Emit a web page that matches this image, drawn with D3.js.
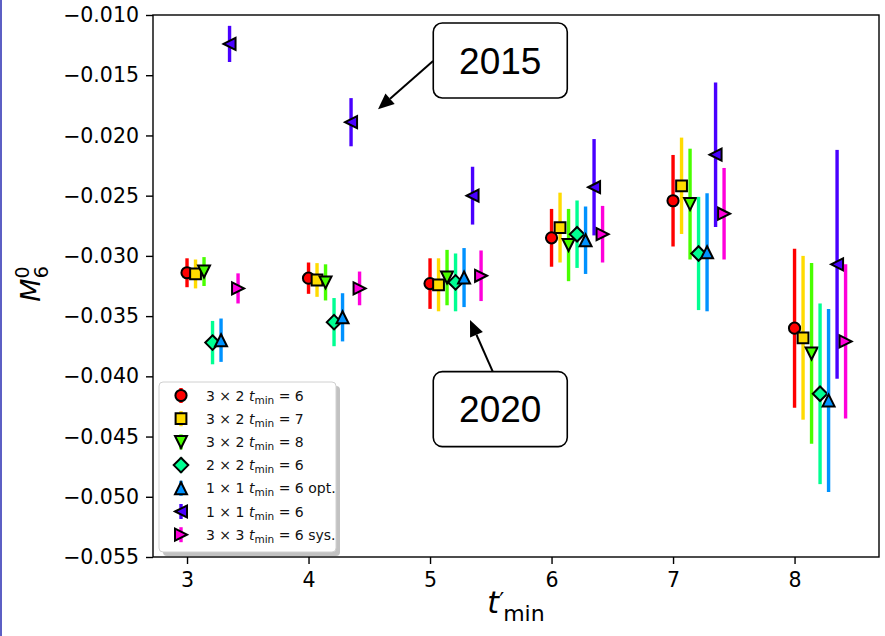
<!DOCTYPE html>
<html>
<head>
<meta charset="utf-8">
<script src="https://cdn.jsdelivr.net/npm/d3@7"></script>
<style>
  html, body { margin: 0; padding: 0; background: #fff; }
  svg { display: block; }
  text { font-family: "DejaVu Sans", sans-serif; }
</style>
</head>
<body>
<svg id="chart" width="885" height="636"></svg>
<script>
// t'_min values on the x axis
const tminPrime = [3, 4, 5, 6, 7, 8];
const xTicks = [3, 4, 5, 6, 7, 8];
const yTicks = [-0.055, -0.050, -0.045, -0.040, -0.035, -0.030, -0.025, -0.020, -0.015, -0.010];

// fit variants (legend order)
const seriesKeys = ["3x2_6", "3x2_7", "3x2_8", "2x2_6", "1x1_opt", "1x1_6", "3x3_sys"];
const seriesColors = ["#ff0000", "#ffdb00", "#49ff00", "#00ff92", "#0092ff", "#4900ff", "#ff00db"];
const seriesMarkers = ["circle", "square", "triangleDown", "diamond", "triangleUp", "triangleLeft", "triangleRight"];
const seriesLabels = [
  ["3 × 2 ", "= 6"],
  ["3 × 2 ", "= 7"],
  ["3 × 2 ", "= 8"],
  ["2 × 2 ", "= 6"],
  ["1 × 1 ", "= 6 opt."],
  ["1 × 1 ", "= 6"],
  ["3 × 3 ", "= 6 sys."]
];
// horizontal shift of each variant away from its t'_min
const seriesShift = [0, 0.07, 0.14, 0.21, 0.28, 0.35, 0.42];

// M_6^0 central values
const m3x2t6 = [-0.0314, -0.03185, -0.0323, -0.0285, -0.02542, -0.0360];
const m3x2t7 = [-0.0315, -0.0320, -0.0324, -0.02765, -0.02418, -0.0368];
const m3x2t8 = [-0.0313, -0.0322, -0.0318, -0.0291, -0.0257, -0.0381];
const m2x2t6 = [-0.0372, -0.0355, -0.0322, -0.0282, -0.0298, -0.04145];
const m1x1opt = [-0.0370, -0.0351, -0.0318, -0.0287, -0.0297, -0.0420];
const m1x1t6 = [-0.0124, -0.0189, -0.0250, -0.0243, -0.0216, -0.0307];
const m3x3sys = [-0.0327, -0.0327, -0.03165, -0.0282, -0.0265, -0.0371];

// symmetric uncertainties
const e3x2t6 = [0.0012, 0.0013, 0.0021, 0.0024, 0.0038, 0.0066];
const e3x2t7 = [0.0012, 0.0014, 0.0022, 0.0029, 0.0040, 0.0068];
const e3x2t8 = [0.0012, 0.0015, 0.0023, 0.0030, 0.0046, 0.0075];
const e2x2t6 = [0.0018, 0.0020, 0.0024, 0.0028, 0.0047, 0.0075];
const e1x1opt = [0.0018, 0.0020, 0.00245, 0.0028, 0.0049, 0.0076];
const e1x1t6 = [0.0015, 0.0020, 0.0024, 0.0040, 0.0060, 0.0095];
const e3x3sys = [0.00125, 0.0014, 0.0021, 0.00235, 0.0038, 0.0064];

const seriesValues = [m3x2t6, m3x2t7, m3x2t8, m2x2t6, m1x1opt, m1x1t6, m3x3sys];
const seriesErrors = [e3x2t6, e3x2t7, e3x2t8, e2x2t6, e1x1opt, e1x1t6, e3x3sys];

// annotations: label, box centre, arrow start and arrow tip (data coords)
const noteLabels = ["2015", "2020"];
const noteBoxCenter = [[5.578, -0.01378], [5.578, -0.04272]];
const noteArrowFrom = [[5.025, -0.01382], [5.518, -0.03965]];
const noteArrowTo = [[4.572, -0.01783], [5.329, -0.03533]];

const svg = d3.select("#chart");
const W = 885, H = 636;
const plot = { left: 153, right: 879, top: 15, bottom: 557 };

const x = d3.scaleLinear().domain([2.72, 8.695]).range([plot.left, plot.right]);
const y = d3.scaleLinear().domain([-0.055, -0.010]).range([plot.bottom, plot.top]);

// thin page edge on the left
svg.append("line").attr("x1", 1).attr("x2", 1).attr("y1", 0).attr("y2", H)
  .attr("stroke", "#5c5fc4").attr("stroke-width", 2);

function markerPath(kind, h) {
  switch (kind) {
    case "square": return `M${-h},${-h}H${h}V${h}H${-h}Z`;
    case "triangleDown": return `M${-h},${-h}L${h},${-h}L0,${h}Z`;
    case "triangleUp": return `M0,${-h}L${h},${h}L${-h},${h}Z`;
    case "triangleLeft": return `M${-h},0L${h},${-h}L${h},${h}Z`;
    case "triangleRight": return `M${h},0L${-h},${-h}L${-h},${h}Z`;
    case "diamond": { const d = h * 1.3; return `M0,${-d}L${d},0L0,${d}L${-d},0Z`; }
    default: return d3.arc()({ innerRadius: 0, outerRadius: h, startAngle: 0, endAngle: 2 * Math.PI });
  }
}
const markerHalf = { circle: 5.6, square: 5.4, triangleDown: 6, diamond: 5.6, triangleUp: 6, triangleLeft: 6, triangleRight: 6 };

// data layer
const dataLayer = svg.append("g");
seriesKeys.forEach((key, i) => {
  const g = dataLayer.append("g").attr("class", "series-" + key);
  const pts = tminPrime.map((t, j) => ({ t: t + seriesShift[i], v: seriesValues[i][j], e: seriesErrors[i][j] }));
  g.selectAll("line.err").data(pts).join("line").attr("class", "err")
    .attr("x1", d => x(d.t)).attr("x2", d => x(d.t))
    .attr("y1", d => y(d.v - d.e)).attr("y2", d => y(d.v + d.e))
    .attr("stroke", seriesColors[i]).attr("stroke-width", 3.4);
  g.selectAll("path.mk").data(pts).join("path").attr("class", "mk")
    .attr("transform", d => `translate(${x(d.t)},${y(d.v)})`)
    .attr("d", markerPath(seriesMarkers[i], markerHalf[seriesMarkers[i]]))
    .attr("fill", seriesColors[i]).attr("stroke", "#000").attr("stroke-width", 2)
    .attr("stroke-linejoin", "miter");
});

// frame
svg.append("rect").attr("x", plot.left).attr("y", plot.top)
  .attr("width", plot.right - plot.left).attr("height", plot.bottom - plot.top)
  .attr("fill", "none").attr("stroke", "#000").attr("stroke-width", 1.4);

// axes
const fmt = d3.format(".3f");
const yAxis = svg.append("g").attr("transform", `translate(${plot.left},0)`)
  .call(d3.axisLeft(y).tickValues(yTicks).tickFormat(fmt).tickSize(7).tickSizeOuter(0).tickPadding(7));
const xAxis = svg.append("g").attr("transform", `translate(0,${plot.bottom})`)
  .call(d3.axisBottom(x).tickValues(xTicks).tickFormat(d3.format("d")).tickSize(7).tickSizeOuter(0).tickPadding(8));
[yAxis, xAxis].forEach(a => {
  a.select(".domain").remove();
  a.selectAll(".tick line").attr("stroke", "#000").attr("stroke-width", 1.4);
  a.selectAll(".tick text").attr("fill", "#000").style("font-size", "20.5px")
    .style("font-family", "'DejaVu Sans', sans-serif");
});

// axis titles
const yl = svg.append("text").attr("transform", "translate(40,284) rotate(-90)")
  .attr("text-anchor", "middle").style("font-size", "27px");
yl.append("tspan").style("font-style", "italic").text("M");
yl.append("tspan").attr("dy", -11).style("font-size", "19px").text("0");
yl.append("tspan").attr("dx", -12).attr("dy", 19).style("font-size", "19px").text("6");

const xl = svg.append("text").attr("x", 516).attr("y", 613)
  .attr("text-anchor", "middle").style("font-size", "30px");
xl.append("tspan").style("font-style", "italic").text("t");
xl.append("tspan").attr("dy", -5).style("font-size", "22px").text("′");
xl.append("tspan").attr("dx", -1).attr("dy", 13).style("font-size", "22px").text("min");

// legend
const lg = svg.append("g").attr("transform", "translate(159,382)");
lg.append("rect").attr("x", 4).attr("y", 4).attr("width", 177).attr("height", 170).attr("rx", 4)
  .attr("fill", "#9a9a9a").attr("opacity", 0.6);
lg.append("rect").attr("x", 0).attr("y", 0).attr("width", 177).attr("height", 170).attr("rx", 4)
  .attr("fill", "#fff").attr("stroke", "#d0d0d0").attr("stroke-width", 1);
seriesKeys.forEach((key, i) => {
  const ry = 13.5 + i * 23.2;
  const row = lg.append("g").attr("transform", `translate(22,${ry})`);
  row.append("line").attr("y1", -7.5).attr("y2", 7.5).attr("stroke", seriesColors[i]).attr("stroke-width", 3.4);
  row.append("path").attr("d", markerPath(seriesMarkers[i], markerHalf[seriesMarkers[i]]))
    .attr("fill", seriesColors[i]).attr("stroke", "#000").attr("stroke-width", 2);
  const t = row.append("text").attr("x", 25).attr("y", 5).style("font-size", "14px").attr("fill", "#111");
  t.append("tspan").text(seriesLabels[i][0]);
  t.append("tspan").style("font-style", "italic").text("t");
  t.append("tspan").attr("dy", 3).style("font-size", "10.5px").text("min");
  t.append("tspan").attr("dy", -3).text(" " + seriesLabels[i][1]);
});

// annotations
noteLabels.forEach((label, i) => {
  const [cx, cy] = [x(noteBoxCenter[i][0]), y(noteBoxCenter[i][1])];
  const x1 = x(noteArrowFrom[i][0]), y1 = y(noteArrowFrom[i][1]);
  const x2 = x(noteArrowTo[i][0]), y2 = y(noteArrowTo[i][1]);
  const ang = Math.atan2(y2 - y1, x2 - x1);
  const headLen = 16, headHalf = 7;
  const bx = x2 - headLen * Math.cos(ang), by = y2 - headLen * Math.sin(ang);
  svg.append("line").attr("x1", x1).attr("y1", y1).attr("x2", bx).attr("y2", by)
    .attr("stroke", "#000").attr("stroke-width", 2);
  svg.append("path")
    .attr("d", `M${x2},${y2}L${bx - headHalf * Math.sin(ang)},${by + headHalf * Math.cos(ang)}` +
               `L${bx + headHalf * Math.sin(ang)},${by - headHalf * Math.cos(ang)}Z`)
    .attr("fill", "#000");
  svg.append("rect").attr("x", cx - 67).attr("y", cy - 37.5).attr("width", 134).attr("height", 75)
    .attr("rx", 9).attr("fill", "#fff").attr("stroke", "#000").attr("stroke-width", 1.6);
  svg.append("text").attr("x", cx).attr("y", cy + 13).attr("text-anchor", "middle")
    .style("font-family", "'Liberation Sans', Arial, sans-serif").style("font-size", "37px")
    .attr("fill", "#000").text(label);
});
</script>
</body>
</html>
